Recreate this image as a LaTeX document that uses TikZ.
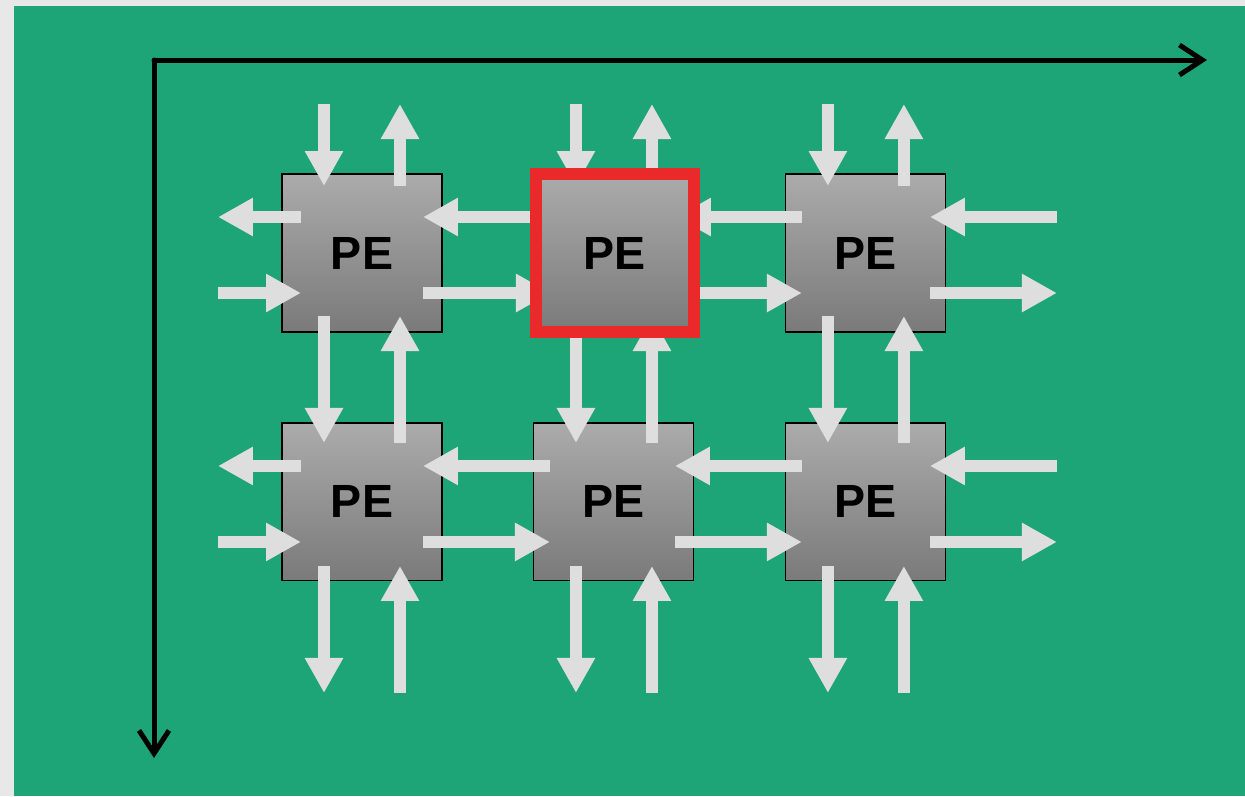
\documentclass[tikz,border=0pt]{standalone}
\usepackage{fontspec}
\setmainfont{Liberation Sans}
\usetikzlibrary{
    arrows.meta,
    positioning,
    calc
}
\definecolor{pagegray}{HTML}{E8E8E8}
\definecolor{boardgreen}{HTML}{1EA577}
\definecolor{linkgray}{HTML}{DEDEDE}
\definecolor{hotred}{HTML}{EA2A2A}
\definecolor{petop}{HTML}{ABABAB}
\definecolor{pebottom}{HTML}{7A7A7A}
\pgfdeclarelayer{front}
\pgfsetlayers{main,front}

\begin{document}
\begin{tikzpicture}[
    x=0.02cm, y=-0.02cm,
    node distance=1.82cm and 1.84cm,
    pe/.style={rectangle, draw=black, line width=0.6pt, outer sep=0pt, inner sep=0pt,
        minimum width=3.2cm, minimum height=3.16cm,
        top color=petop, bottom color=pebottom,
        font=\fontsize{26.5}{30}\selectfont\bfseries},
    hot/.style={pe, draw=hotred, line width=0.24cm, minimum width=3.16cm},
    link/.style={-{Triangle[length=0.7cm, width=0.72cm]}, line width=0.24cm, linkgray},
    axis/.style={-{Straight Barb[length=0.46cm, width=0.6cm]}, line width=0.1cm,
        line cap=round, line join=round}
]
% page and board
\fill[pagegray] (0,0) rectangle (1245,796);
\fill[boardgreen] (14,6) rectangle (1245,796);

% axes
\coordinate (origin) at (154,60);
\coordinate (xend) at (1207,60);
\coordinate (yend) at (154,758);
\draw[axis] (origin) -- (xend);
\draw[axis] (origin) -- (yend);

% processing elements
\node[pe] (pe11) at (362,253) {PE};
\begin{pgfonlayer}{front}
\node[hot, right=1.88cm of pe11] (pe12) {PE};
\end{pgfonlayer}
\node[pe, right=of pe12] (pe13) {PE};
\node[pe, below=of pe11] (pe21) {PE};
\node[pe, right=of pe21] (pe22) {PE};
\node[pe, right=of pe22] (pe23) {PE};

% vertical links (columns follow the lower row)
\foreach \c in {1,2,3} {
    \coordinate (top\c) at (pe2\c |- pe1\c);
    \draw[link] ($(top\c)+(-38,-149)$) -- ($(top\c)+(-38,-67)$);
    \draw[link] ($(top\c)+(38,-67)$) -- ($(top\c)+(38,-149)$);
    \draw[link] ($(top\c)+(-38,63)$) -- ($(pe2\c)+(-38,-59)$);
    \draw[link] ($(pe2\c)+(38,-59)$) -- ($(top\c)+(38,63)$);
    \draw[link] ($(pe2\c)+(-38,64)$) -- ($(pe2\c)+(-38,191)$);
    \draw[link] ($(pe2\c)+(38,191)$) -- ($(pe2\c)+(38,64)$);
}

% horizontal links
\foreach \r in {1,2} {
    \draw[link] ($(pe\r1)+(-61,-36)$) -- ($(pe\r1)+(-144,-36)$);
    \draw[link] ($(pe\r1)+(-144,40)$) -- ($(pe\r1)+(-61,40)$);
    \foreach \c/\n in {1/2,2/3} {
        \draw[link] ($(pe\r\n)+(-64,-36)$) -- ($(pe\r\c)+(61,-36)$);
        \draw[link] ($(pe\r\c)+(61,40)$) -- ($(pe\r\n)+(-64,40)$);
    }
    \draw[link] ($(pe\r3)+(191,-36)$) -- ($(pe\r3)+(64,-36)$);
    \draw[link] ($(pe\r3)+(64,40)$) -- ($(pe\r3)+(191,40)$);
}
\end{tikzpicture}
\end{document}
